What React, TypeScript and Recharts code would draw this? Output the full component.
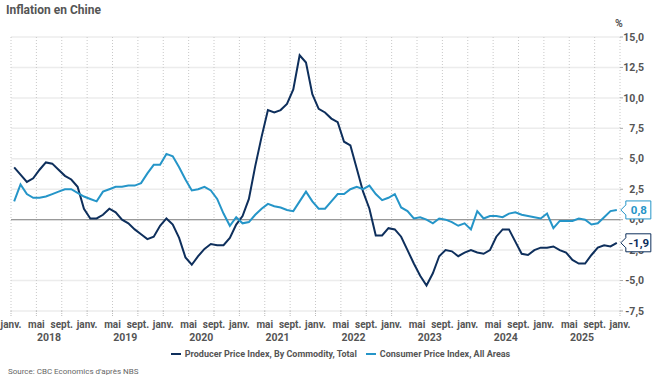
import {
  CartesianGrid,
  Legend,
  Line,
  LineChart,
  ReferenceLine,
  XAxis,
  YAxis,
} from "recharts";

// monthly, Jan 2018 - Dec 2025 (year-over-year, %)
const years = ["2018", "2019", "2020", "2021", "2022", "2023", "2024", "2025"];

const ppi = [
  4.3, 3.7, 3.1, 3.4, 4.1, 4.7, 4.6, 4.1, 3.6, 3.3, 2.7, 0.9,
  0.1, 0.1, 0.4, 0.9, 0.6, 0.0, -0.3, -0.8, -1.2, -1.6, -1.4, -0.5,
  0.1, -0.4, -1.5, -3.1, -3.7, -3.0, -2.4, -2.0, -2.1, -2.1, -1.5, -0.4,
  0.3, 1.7, 4.4, 6.8, 9.0, 8.8, 9.0, 9.5, 10.7, 13.5, 12.9, 10.3,
  9.1, 8.8, 8.3, 8.0, 6.4, 6.1, 4.2, 2.3, 0.9, -1.3, -1.3, -0.7,
  -0.8, -1.4, -2.5, -3.6, -4.6, -5.4, -4.4, -3.0, -2.5, -2.6, -3.0, -2.7,
  -2.5, -2.7, -2.8, -2.5, -1.4, -0.8, -0.8, -1.8, -2.8, -2.9, -2.5, -2.3,
  -2.3, -2.2, -2.5, -2.7, -3.3, -3.6, -3.6, -2.9, -2.3, -2.1, -2.2, -1.9,
];

const cpi = [
  1.5, 2.9, 2.1, 1.8, 1.8, 1.9, 2.1, 2.3, 2.5, 2.5, 2.2, 1.9,
  1.7, 1.5, 2.3, 2.5, 2.7, 2.7, 2.8, 2.8, 3.0, 3.8, 4.5, 4.5,
  5.4, 5.2, 4.3, 3.3, 2.4, 2.5, 2.7, 2.4, 1.7, 0.5, -0.5, 0.2,
  -0.3, -0.2, 0.4, 0.9, 1.3, 1.1, 1.0, 0.8, 0.7, 1.5, 2.3, 1.5,
  0.9, 0.9, 1.5, 2.1, 2.1, 2.5, 2.7, 2.5, 2.8, 2.1, 1.6, 1.8,
  2.1, 1.0, 0.7, 0.1, 0.2, 0.0, -0.3, 0.1, 0.0, -0.2, -0.5, -0.3,
  -0.8, 0.7, 0.1, 0.3, 0.3, 0.2, 0.5, 0.6, 0.4, 0.3, 0.2, 0.1,
  0.5, -0.7, -0.1, -0.1, -0.1, 0.1, 0.0, -0.4, -0.3, 0.2, 0.7, 0.8,
];

const monthNames = ["janv.", "mai", "sept."];
const yTicks = [-7.5, -5, -2.5, 0, 2.5, 5, 7.5, 10, 12.5, 15];

const seriesNames = {
  ppi: "Producer Price Index, By Commodity, Total",
  cpi: "Consumer Price Index, All Areas",
};
const colors = { ppi: "#0e2f5c", cpi: "#2595c8" };

const data = ppi.map((v, i) => ({ t: i + 0.5, ppi: v, cpi: cpi[i] }));
const monthTicks = Array.from({ length: 25 }, (_, i) => i * 4);
const yearTicks = years.map((_, i) => i * 12 + 6);

const font = "Roboto, 'Noto Sans', sans-serif";
const fmt = (v: number) => v.toFixed(1).replace(".", ",");

const YTick = (props: any) => {
  const { y, payload } = props;
  return (
    <g>
      <line x1={620} x2={623} y1={y} y2={y} stroke="#aaa" />
      <text x={644} y={y} dy="0.35em" textAnchor="end" fontSize={10.5} fontWeight={700} fill="#555" fontFamily={font}>
        {fmt(payload.value)}
      </text>
    </g>
  );
};

const endLabel = (key: "ppi" | "cpi") => (props: any) => {
  const { x, y, index, value } = props;
  if (index !== data.length - 1) return null;
  const x0 = x + 4;
  const h = 18;
  const path = `M${x0},${y} L${x0 + 5},${y - 5} L${x0 + 5},${y - h / 2} L${x0 + 30},${y - h / 2} L${x0 + 30},${y + h / 2} L${x0 + 5},${y + h / 2} L${x0 + 5},${y + 5} Z`;
  return (
    <g>
      <path d={path} fill="#fff" stroke={colors[key]} strokeWidth={1} />
      <text x={x0 + 18} y={y} dy="0.35em" textAnchor="middle" fontSize={11.5} fontWeight={700} fill={colors[key]} fontFamily={font}>
        {fmt(value)}
      </text>
    </g>
  );
};

const LegendContent = () => (
  <div style={{ display: "flex", justifyContent: "center", gap: 9, fontFamily: font, fontSize: 9, fontWeight: 700, color: "#555", paddingLeft: 18 }}>
    {(["ppi", "cpi"] as const).map((k) => (
      <span key={k} style={{ display: "flex", alignItems: "center" }}>
        <span style={{ display: "inline-block", width: 10, height: 2, background: colors[k], marginRight: 4 }} />
        {seriesNames[k]}
      </span>
    ))}
  </div>
);

export default function App() {
  return (
    <div style={{ position: "fixed", left: 0, top: 0, width: 652, height: 385, background: "#fff" }}>
      <div style={{ position: "absolute", left: 6, top: 3, fontFamily: font, fontSize: 12, fontWeight: 700, color: "#555" }}>
        Inflation en Chine
      </div>
      <div style={{ position: "absolute", left: 615, top: 17, fontFamily: font, fontSize: 10.5, fontWeight: 700, color: "#555" }}>
        %
      </div>
      <div style={{ position: "absolute", left: 8, top: 367, fontFamily: font, fontSize: 8, color: "#666" }}>
        Source: CBC Economics d&apos;après NBS
      </div>
      <LineChart width={652} height={385} data={data} margin={{ top: 37, right: 0, bottom: 22, left: 11 }}>
        <CartesianGrid vertical={false} stroke="#ececec" strokeWidth={1.5} />
        <CartesianGrid horizontal={false} stroke="#c8c8c8" strokeDasharray="1 2" />
        <XAxis
          type="number"
          dataKey="t"
          domain={[0, 96]}
          ticks={monthTicks}
          interval={0}
          height={22}
          axisLine={false}
          tickLine={{ stroke: "#bbb", strokeDasharray: "1 1" }}
          tickSize={5}
          tickMargin={5}
          tick={{ fontSize: 10, fontWeight: 700, fill: "#555", fontFamily: font }}
          tickFormatter={(v: number) => monthNames[(v % 12) / 4]}
        />
        <XAxis
          xAxisId="year"
          type="number"
          dataKey="t"
          domain={[0, 96]}
          ticks={yearTicks}
          interval={0}
          height={16}
          axisLine={false}
          tickLine={false}
          tickSize={0}
          tickMargin={1}
          tick={{ fontSize: 10.5, fontWeight: 700, fill: "#555", fontFamily: font }}
          tickFormatter={(v: number) => years[(v - 6) / 12]}
        />
        <YAxis
          orientation="right"
          domain={[-7.5, 15]}
          ticks={yTicks}
          interval={0}
          width={32}
          axisLine={false}
          tickLine={false}
          tick={<YTick />}
        />
        <ReferenceLine y={0} stroke="#999" strokeWidth={1.2} />
        <Legend verticalAlign="bottom" height={14} content={<LegendContent />} />
        <Line
          dataKey="ppi"
          name={seriesNames.ppi}
          stroke={colors.ppi}
          strokeWidth={2}
          dot={false}
          isAnimationActive={false}
          label={endLabel("ppi")}
        />
        <Line
          dataKey="cpi"
          name={seriesNames.cpi}
          stroke={colors.cpi}
          strokeWidth={2}
          dot={false}
          isAnimationActive={false}
          label={endLabel("cpi")}
        />
      </LineChart>
    </div>
  );
}
